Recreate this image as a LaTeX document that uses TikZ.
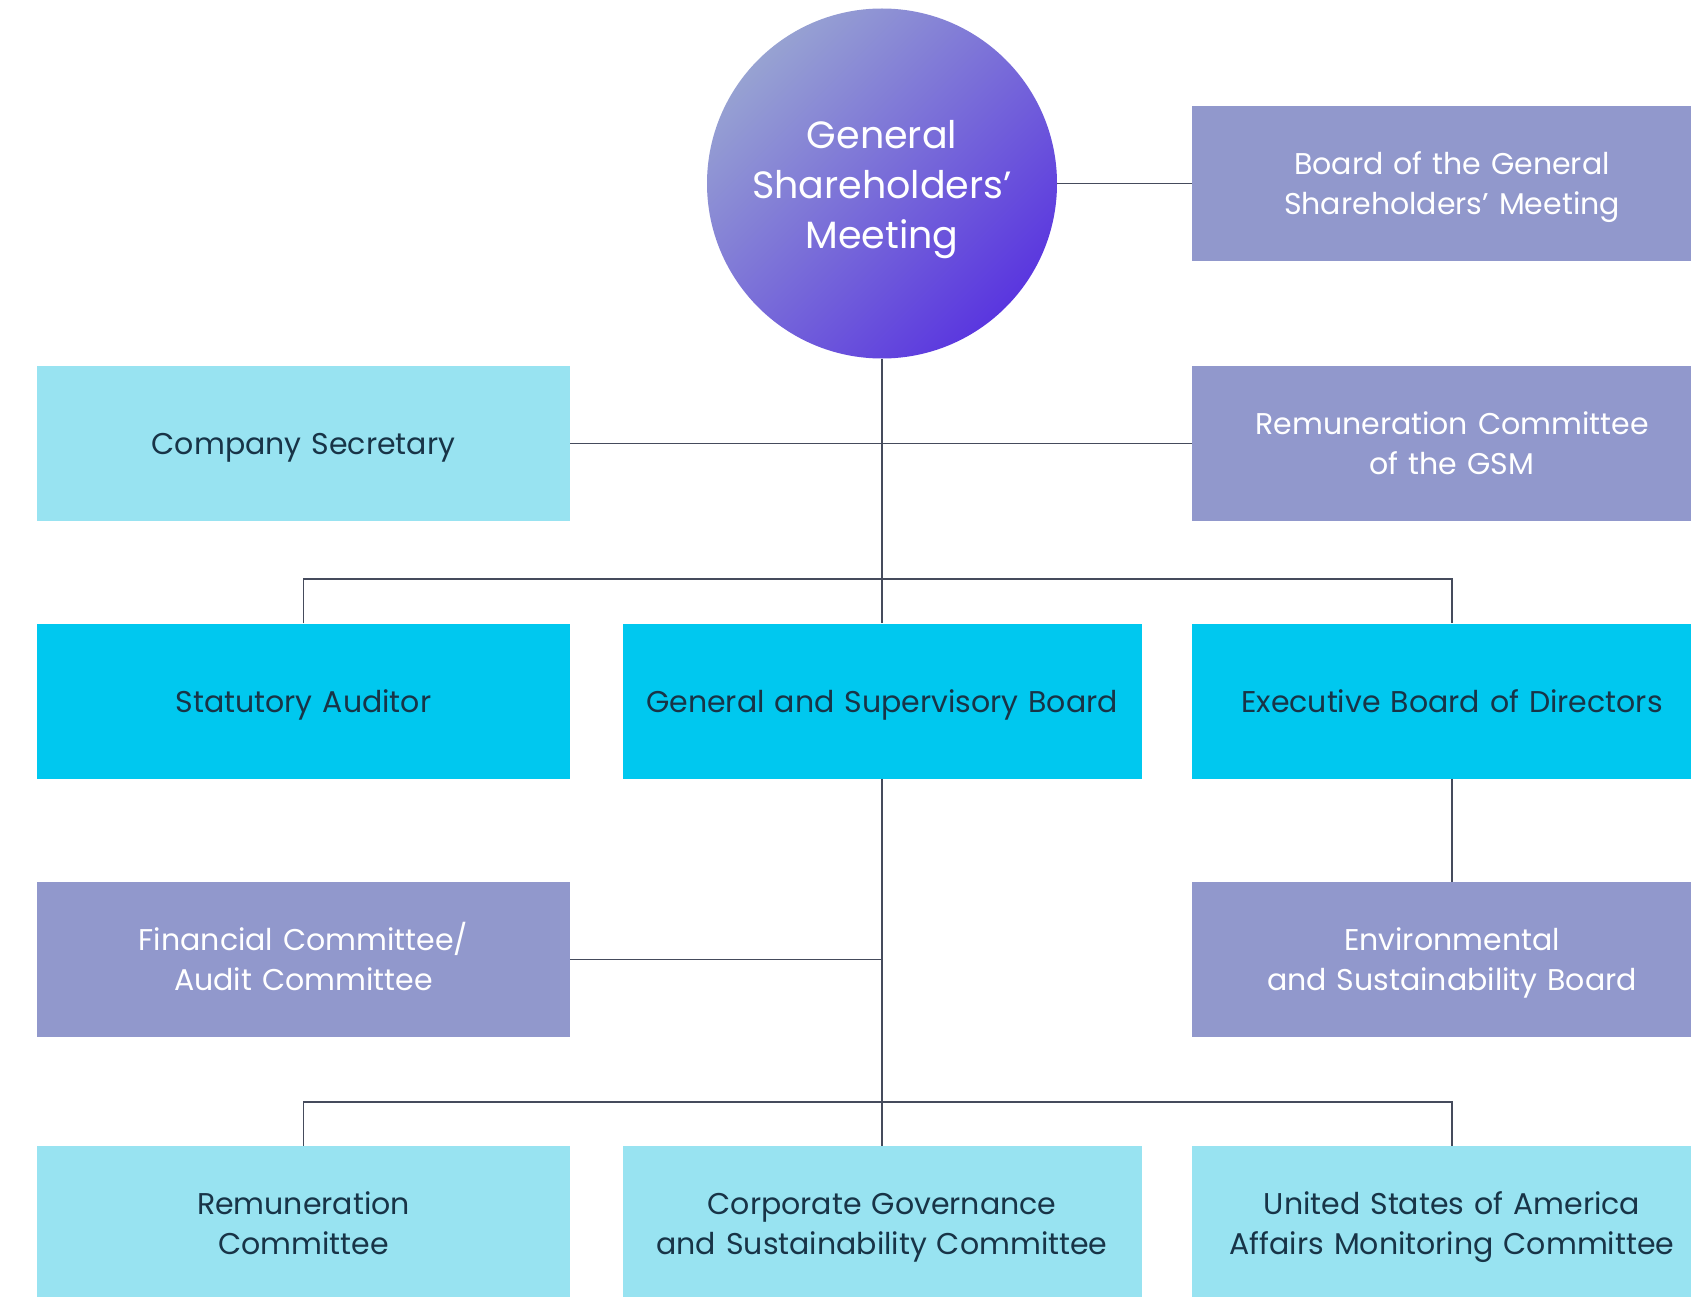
\documentclass[tikz,border=0pt]{standalone}
\usepackage{fontspec}
\setmainfont{Poppins}
\definecolor{lightcyan}{HTML}{98E3F1}
\definecolor{brightcyan}{HTML}{00C8EF}
\definecolor{lavender}{HTML}{9198CC}
\definecolor{darktxt}{HTML}{183447}
\definecolor{linecol}{HTML}{454B5C}
\definecolor{circlight}{HTML}{97A2D2}
\definecolor{circdark}{HTML}{5A36DF}
\newcommand{\sline}[1]{\vrule height 31pt depth 9pt width 0pt #1}
\newcommand{\circline}[1]{\strut #1}
\tikzset{
  box/.style={rectangle, inner sep=0pt, align=center, font=\fontsize{30}{40}\selectfont, minimum height=155pt},
  leftbox/.style={box, minimum width=533pt, text width=520pt},
  midbox/.style={box, minimum width=519pt, text width=510pt},
  rightbox/.style={box, minimum width=520pt, text width=510pt},
  lightbox/.style={fill=lightcyan, text=darktxt},
  brightbox/.style={fill=brightcyan, text=darktxt},
  lavbox/.style={fill=lavender, text=white},
  conn/.style={draw=linecol, line width=1.5pt}
}
\begin{document}
\begin{tikzpicture}[x=1pt, y=-1pt]
\useasboundingbox (0,0) rectangle (1691,1297);
\fill[white] (0,0) rectangle (1691,1297);
\begin{scope}
\clip (0,0) rectangle (1691,1297);
\coordinate (bus1) at (882,579);
\coordinate (bus2) at (882,1102);
\coordinate (fcj) at (882,959.5);

\node[circle, minimum size=350pt, inner sep=0pt, top color=circlight, bottom color=circdark, shading angle=45] (gsm) at (882,183.5) {};
\node[text=white, align=center, inner sep=0pt, font=\fontsize{38}{50}\selectfont] (gsmtext) at (882,189) {\circline{General}\\\circline{Shareholders’}\\\circline{Meeting}};

\node[rightbox, lavbox] (bgsm) at (1452,183.5) {\sline{Board of the General}\\\sline{Shareholders’ Meeting}};
\node[leftbox, lightbox] (cs) at (303.5,443.5) {\sline{Company Secretary}};
\node[rightbox, lavbox] (rgsm) at (1452,443.5) {\sline{Remuneration Committee}\\\sline{of the GSM}};

\node[leftbox, brightbox] (sa) at (303.5,701) {\sline{Statutory Auditor}};
\node[midbox, brightbox] (gsb) at (882,701) {\sline{General and Supervisory Board}};
\node[rightbox, brightbox] (ebd) at (1452,701) {\sline{Executive Board of Directors}};

\node[leftbox, lavbox] (fc) at (303.5,959.5) {\sline{Financial Committee/}\\\sline{Audit Committee}};
\node[rightbox, lavbox] (esb) at (1452,959.5) {\sline{Environmental}\\\sline{and Sustainability Board}};

\node[leftbox, lightbox] (rc) at (303.5,1223.5) {\sline{Remuneration}\\\sline{Committee}};
\node[midbox, lightbox] (cgsc) at (882,1223.5) {\sline{Corporate Governance}\\\sline{and Sustainability Committee}};
\node[rightbox, lightbox] (usa) at (1452,1223.5) {\sline{United States of America}\\\sline{Affairs Monitoring Committee}};

\draw[conn] (gsm.east) -- (bgsm.west);
\draw[conn] (gsm.south) -- (gsb.north);
\draw[conn] (cs.east) -- (rgsm.west);
\draw[conn] (sa.north) |- (bus1) -| (ebd.north);
\draw[conn] (gsb.south) -- (cgsc.north);
\draw[conn] (fc.east) -- (fcj);
\draw[conn] (ebd.south) -- (esb.north);
\draw[conn] (rc.north) |- (bus2) -| (usa.north);
\end{scope}
\end{tikzpicture}
\end{document}
